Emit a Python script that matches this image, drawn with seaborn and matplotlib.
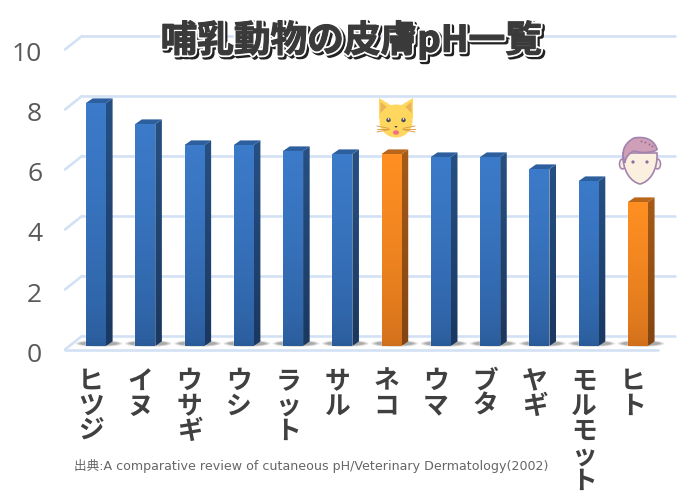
import numpy as np
import matplotlib
matplotlib.use("Agg")
import matplotlib.pyplot as plt
import matplotlib.patheffects as pe
from matplotlib.colors import LinearSegmentedColormap
from matplotlib.patches import Polygon, Ellipse, Circle, PathPatch
from matplotlib.path import Path
from matplotlib.transforms import Affine2D
import pandas as pd
import seaborn as sns

animals = ["ヒツジ", "イヌ", "ウサギ", "ウシ", "ラット", "サル", "ネコ", "ウマ", "ブタ", "ヤギ", "モルモット", "ヒト"]
ph_values = [8.1, 7.4, 6.7, 6.7, 6.5, 6.4, 6.4, 6.3, 6.3, 5.9, 5.5, 4.8]
highlight = ["ネコ", "ヒト"]
y_ticks = [0, 2, 4, 6, 8, 10]
title = "哺乳動物の皮膚pH一覧"
source = "出典:A comparative review of cutaneous pH/Veterinary Dermatology(2002)"

W, H = 696, 502
STEP = 49.27
LEFT = 96 - STEP / 2
BASE = 347
GRID = "#d3e1f4"

sns.set_theme(style="white")
plt.rcParams["font.family"] = ["Noto Sans CJK JP", "DejaVu Sans"]

fig = plt.figure(figsize=(W / 100, H / 100), dpi=100)
ax = fig.add_axes([LEFT / W, (H - BASE) / H, 12 * STEP / W, 300 / H])
df = pd.DataFrame({"animal": animals, "ph": ph_values})
colors = ["#ff8f22" if a in highlight else "#3b7ac9" for a in animals]
sns.barplot(data=df, x="animal", y="ph", hue="animal", palette=colors, legend=False,
            width=20 / STEP, saturation=1, ax=ax, zorder=3)
ax.set_xlabel("")
ax.set_ylabel("")
ax.set_xlim(-0.5, 11.5)
ax.set_ylim(0, 10)
sns.despine(ax=ax, left=True, bottom=True)


def xd(pixel):
    return (pixel - LEFT) / STEP - 0.5


def ramp(name, low, high, n=64, power=1.0):
    cmap = LinearSegmentedColormap.from_list(name, [low, high])
    return np.linspace(0, 1, n).reshape(-1, 1) ** power, cmap


bars = list(ax.patches)
back = ax.transData + Affine2D().translate(0, 10)
for v in y_ticks:
    ax.plot([xd(82), xd(675)], [v, v], transform=back, color=GRID, lw=1.9, clip_on=False, zorder=1)
    y0 = ax.transData.transform((0, v))[1]
    fig.add_artist(plt.Line2D([65 / W, 82 / W], [(y0 - 3.5) / H, (y0 + 10) / H], color=GRID, lw=1.9))
ax.plot([xd(65), xd(658)], [0, 0], transform=ax.transData + Affine2D().translate(0, -3.5),
        color=GRID, lw=1.9, clip_on=False, zorder=1)

DX = 6.6 / STEP
DY = 4.6 / 30
for patch, a in zip(bars, animals):
    x0, x1 = patch.get_x(), patch.get_x() + patch.get_width()
    top = patch.get_height()
    orange = a in highlight
    front = ("#cf6e1b", "#ff8f22") if orange else ("#2a5b99", "#3c7bca")
    side = ("#824512", "#a65b17") if orange else ("#1a3860", "#265083")
    cap = "#b8661a" if orange else "#2d5f9e"

    # soft shadow on the floor
    mid = (x0 + x1) / 2 + 3 / STEP
    for w, h, alpha in [(47, 7, 0.12), (44, 6, 0.14), (41, 5, 0.16), (38, 4, 0.2)]:
        ax.add_patch(Ellipse((mid, 2.5 / 30), w / STEP, h / 30, lw=0, fc="#555555", alpha=alpha,
                             zorder=2, clip_on=False))

    z, cm = ramp("front", *front, power=0.6)
    img = ax.imshow(z, cmap=cm, aspect="auto", origin="lower", extent=(x0, x1, 0, top), zorder=4)
    img.set_clip_path(patch)

    side_poly = Polygon([(x1, 0), (x1 + DX, DY), (x1 + DX, top + DY), (x1, top)], lw=0, fc="none", zorder=4)
    ax.add_patch(side_poly)
    z, cm = ramp("side", *side)
    simg = ax.imshow(z, cmap=cm, aspect="auto", origin="lower", extent=(x1, x1 + DX, 0, top + DY), zorder=4)
    simg.set_clip_path(side_poly)

    ax.add_patch(Polygon([(x0, top), (x0 + DX, top + DY), (x1 + DX, top + DY), (x1, top)],
                         lw=0, fc=cap, zorder=4))

ax.set_xlim(-0.5, 11.5)
ax.set_ylim(0, 10)
ax.patch.set_alpha(0)
ax.set_yticks(y_ticks)
ax.set_xticks(range(len(animals)))
ax.set_xticklabels(["\n".join(a) for a in animals], fontsize=18.5, fontweight="bold",
                   color="#404040", linespacing=0.9)
ax.set_yticklabels([str(v) for v in y_ticks], fontsize=19, color="#595959", family="Open Sans")
ax.tick_params(axis="x", length=0, pad=15)
ax.tick_params(axis="y", length=0, pad=21)
for lab in ax.get_xticklabels():
    lab.set_transform(lab.get_transform() + Affine2D().translate(-5, 0))
for lab in ax.get_yticklabels():
    lab.set_transform(lab.get_transform() + Affine2D().translate(0, -5))

# icons and text sit on an overlay counted in pixels
ov = fig.add_axes([0, 0, 1, 1], zorder=5)
ov.set_xlim(0, W)
ov.set_ylim(H, 0)
ov.axis("off")
ov.patch.set_alpha(0)


def draw_cat(cx, cy):
    for s in (-1, 1):
        ov.add_patch(Polygon([(cx + s * 17, cy - 23), (cx + s * 17, cy - 2), (cx + s * 4, cy - 15)], fc="#ffd75e", lw=0))
        ov.add_patch(Polygon([(cx + s * 15.5, cy - 19), (cx + s * 15.5, cy - 8), (cx + s * 9, cy - 14)], fc="#e9b35c", lw=0))
    ov.add_patch(Ellipse((cx, cy), 33, 33, fc="#ffd75e", lw=0))
    for s in (-1, 1):
        ov.add_patch(Circle((cx + s * 7.5, cy - 1), 2.2, fc="#4a4a55", lw=0, zorder=3))
        ov.add_patch(Circle((cx + s * 7.5, cy - 2), 0.8, fc="white", lw=0, zorder=3))
        for dy in (-1, 0, 1):
            ov.plot([cx + s * 7, cx + s * 19], [cy + 8 + dy * 0.6, cy + 8 + dy * 3], color="#dca14a", lw=0.7, zorder=3)
    ov.add_patch(Polygon([(cx - 1.6, cy + 5), (cx + 1.6, cy + 5), (cx, cy + 7)], fc="#3f3f46", lw=0, zorder=3))
    ov.add_patch(Ellipse((cx, cy + 11.5), 6, 4.5, fc="#ef6f86", lw=0, zorder=3))


def draw_face(cx, cy):
    line = "#a283ad"
    for s in (-1, 1):
        ov.add_patch(Ellipse((cx + s * 17.5, cy + 3), 6, 10, fc="#f8eee0", ec=line, lw=1.1))
    C4 = Path.CURVE4
    face = Path([(cx - 17, cy - 8), (cx - 18, cy + 10), (cx - 9, cy + 21), (cx, cy + 23),
                 (cx + 9, cy + 21), (cx + 18, cy + 10), (cx + 17, cy - 8), (cx - 17, cy - 8)],
                [Path.MOVETO, C4, C4, C4, C4, C4, C4, Path.CLOSEPOLY])
    ov.add_patch(PathPatch(face, fc="#fbf0e0", ec=line, lw=1.2))
    hair = Path([(cx - 15, cy + 2), (cx - 19, cy - 8), (cx - 17, cy - 17), (cx - 6, cy - 23),
                 (cx + 6, cy - 25), (cx + 14, cy - 21), (cx + 17, cy - 12), (cx + 17, cy - 9),
                 (cx + 3, cy - 7), (cx - 6, cy - 10), (cx - 11, cy - 8), (cx - 15, cy - 3), (cx - 15, cy + 2)],
                [Path.MOVETO, C4, C4, C4, C4, C4, C4, C4, C4, C4, C4, C4, C4])
    ov.add_patch(PathPatch(hair, fc="#cf9fb8", ec=line, lw=1.2))
    for s in (-1, 1):
        ov.add_patch(Circle((cx + s * 7, cy + 1), 1.6, fc="#8b6c9c", lw=0))
    ov.scatter([cx + 1, cx + 5, cx + 9, cx + 12], [cy - 20, cy - 19, cy - 17, cy - 15], s=2, c="#9a6f95", lw=0)


draw_cat(396, 122)
draw_face(640, 162)

dark = "#3a3a3a"
ov.text(351, 41, title, ha="center", va="center", fontsize=26.4, fontweight="bold", color=dark,
        path_effects=[pe.SimpleLineShadow(offset=(1.5, -1.5), shadow_color="#222222", alpha=1, linewidth=3.6),
                      pe.Stroke(linewidth=3.4, foreground="white"),
                      pe.Stroke(linewidth=0.8, foreground=dark),
                      pe.Normal()])
ov.text(74, 466, source, ha="left", va="center", fontsize=9.1, color="#666666",
        family=["DejaVu Sans", "Noto Sans CJK JP"])

fig.savefig("out.png", dpi=100, facecolor="white")
